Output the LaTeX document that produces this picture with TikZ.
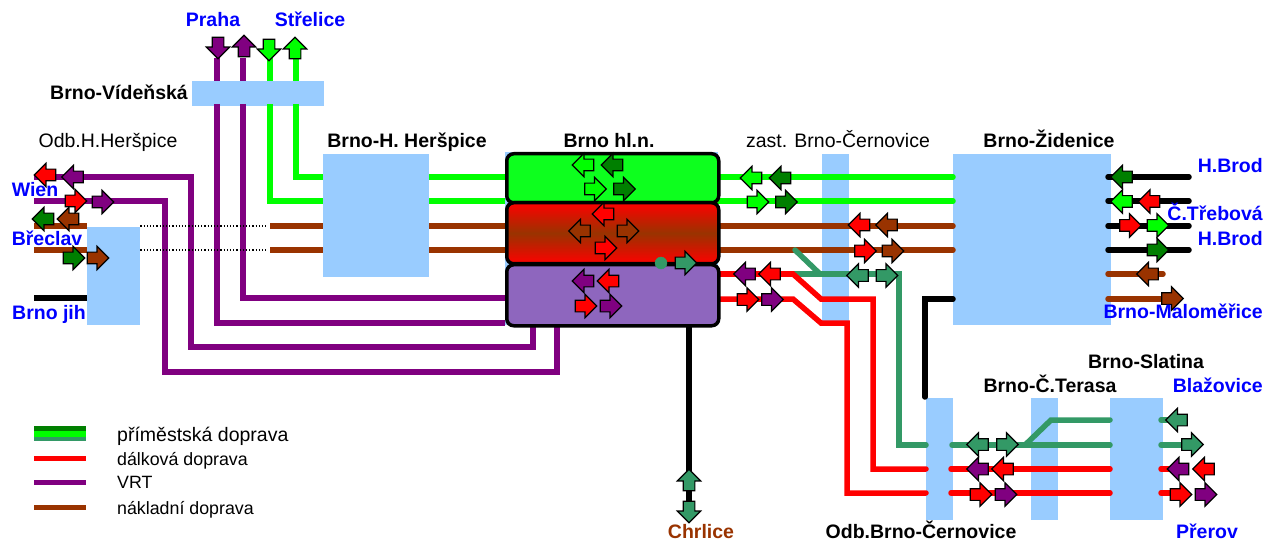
\documentclass[tikz,border=0pt]{standalone}
\usepackage{fontspec}
\setmainfont{Liberation Sans}
\usepackage{xcolor}
\usetikzlibrary{shapes.arrows}
\definecolor{stnblue}{HTML}{99CCFF}
\definecolor{vrt}{HTML}{800080}
\definecolor{freight}{HTML}{993300}
\definecolor{teal2}{HTML}{339966}
\definecolor{dkgreen}{HTML}{007F00}
\definecolor{lime2}{HTML}{00FF00}
\definecolor{hlgreen}{HTML}{0DFF1E}
\definecolor{hlpurple}{HTML}{8E66BE}
\tikzset{
    stanice/.style={fill=stnblue, inner sep=0pt, anchor=north west},
    track/.style={line width=5.5pt},
    rtrack/.style={track, line cap=round},
    deck/.style={draw=black, line width=3.5pt, rounded corners=7pt, inner sep=0pt, anchor=north west, minimum width=212pt},
    barrow/.style={single arrow, draw=black, line width=1.2pt, inner sep=0pt, text height=10.5pt, text depth=0pt, minimum height=21.5pt, single arrow head extend=5.8pt},
    rarrow/.style={barrow, xshift=-2pt},
    larrow/.style={barrow, rotate=180, xshift=-2pt},
    uarrow/.style={barrow, rotate=90, xshift=-2pt},
    darrow/.style={barrow, rotate=-90, xshift=-2pt},
    lab/.style={font=\fontsize{19.5}{22}\selectfont\bfseries, inner sep=0pt, anchor=base},
    dest/.style={lab, text=blue},
    plain/.style={font=\fontsize{19.5}{22}\selectfont, inner sep=0pt, anchor=base},
    small/.style={font=\fontsize{17.8}{20}\selectfont, inner sep=0pt, anchor=base west},
}
\begin{document}
\begin{tikzpicture}[x=1pt, y=-1pt]
    \useasboundingbox (0,0) rectangle (1264,540);
    % stations
    \node[stanice, minimum width=53pt, minimum height=98pt] (odb) at (87,227) {};
    \node[stanice, minimum width=132pt, minimum height=25pt] (vid) at (192,81) {};
    \node[stanice, minimum width=106pt, minimum height=123pt] (her) at (323,154) {};
    \node[stanice, minimum width=213pt, minimum height=173pt] (hlbg) at (505,152) {};
    \node[stanice, minimum width=27pt, minimum height=168pt] (cer) at (822,154) {};
    \node[stanice, minimum width=158pt, minimum height=171pt] (zid) at (953,154) {};
    \node[stanice, minimum width=27pt, minimum height=122pt] (ocer) at (926,398) {};
    \node[stanice, minimum width=27pt, minimum height=122pt] (ter) at (1031,398) {};
    \node[stanice, minimum width=53pt, minimum height=122pt] (sla) at (1110,398) {};
    % free ends
    \coordinate (wien1) at (34,177);
    \coordinate (wien2) at (34,201);
    \coordinate (bre1) at (34,226);
    \coordinate (bre2) at (34,250);
    \coordinate (jih) at (34,298);
    \coordinate (chr) at (689,505);
    % lines to the north
    \draw[track, vrt] (217,58) -- (vid.north -| 217,0);
    \draw[track, vrt] (243,58) -- (vid.north -| 243,0);
    \draw[track, lime2] (270,58) -- (vid.north -| 270,0);
    \draw[track, lime2] (296,58) -- (vid.north -| 296,0);
    \draw[track, vrt] (217,104) -- (217,323) -- (505,323);
    \draw[track, vrt] (243,104) -- (243,298) -- (505,298);
    \draw[track, lime2] (270,104) -- (270,201) -- (her.west |- 0,201);
    \draw[track, lime2] (296,104) -- (296,177) -- (her.west |- 0,177);
    % VRT to the south west
    \draw[track, vrt] (wien1) -- (191,177) -- (191,347) -- (533,347) -- (533,322);
    \draw[track, vrt] (wien2) -- (165,201) -- (165,372) -- (557,372) -- (557,322);
    \draw[track, freight] (bre1) -- (odb.west |- bre1);
    \draw[track, freight] (bre2) -- (odb.west |- bre2);
    \draw[track, black] (jih) -- (odb.west |- jih);
    \draw[dotted, line width=1.2pt] (odb.east |- bre1) -- (268,226);
    \draw[dotted, line width=1.2pt] (odb.east |- bre2) -- (268,250);
    \draw[track, freight] (270,226) -- (her.west |- 0,226);
    \draw[track, freight] (270,250) -- (her.west |- 0,250);
    % H. Herspice to hl.n.
    \draw[track, lime2] (her.east |- 0,177) -- (hlbg.west |- 0,177);
    \draw[track, lime2] (her.east |- 0,201) -- (hlbg.west |- 0,201);
    \draw[track, freight] (her.east |- 0,226) -- (hlbg.west |- 0,226);
    \draw[track, freight] (her.east |- 0,250) -- (hlbg.west |- 0,250);
    % hl.n. to Zidenice
    \draw[rtrack, lime2] (717,177) -- (zid.west |- 0,177);
    \draw[rtrack, lime2] (717,201) -- (zid.west |- 0,201);
    \draw[rtrack, freight] (717,226) -- (zid.west |- 0,226);
    \draw[rtrack, freight] (717,250) -- (zid.west |- 0,250);
    \draw[track, black] (689,323) -- (chr);
    % Cernovice
    \draw[rtrack, teal2] (793,274) -- (899,274) -- (899,445) -- (ocer.west |- 0,445);
    \draw[rtrack, teal2] (795,250) -- (820,274);
    \draw[rtrack, red] (717,274) -- (793,274) -- (821,299) -- (873,299) -- (873,469) -- (ocer.west |- 0,469);
    \draw[rtrack, red] (717,299) -- (793,299) -- (821,323) -- (847,323) -- (847,493) -- (ocer.west |- 0,493);
    \draw[rtrack, black] (zid.west |- 0,299) -- (925,299) -- (925,397);
    % Terasa and Slatina
    \draw[rtrack, teal2] (952,445) -- (sla.west |- 0,445);
    \draw[rtrack, teal2] (1025,445) -- (1051,420) -- (sla.west |- 0,420);
    \draw[rtrack, red] (951,469) -- (sla.west |- 0,469);
    \draw[rtrack, red] (951,493) -- (sla.west |- 0,493);
    \draw[rtrack, teal2] (1161,420) -- (1185,420);
    \draw[rtrack, teal2] (1161,445) -- (1190,445);
    \draw[rtrack, red] (1161,469) -- (1175,469);
    \draw[rtrack, red] (1161,493) -- (1175,493);
    % Zidenice to the east
    \foreach \y in {177,201,226,250}
        \draw[rtrack, black] (1108,\y) -- (1189,\y);
    \draw[rtrack, freight] (1108,274) -- (1163,274);
    \draw[rtrack, freight] (1108,299) -- (1175,299);
    % hl.n.
    \node[deck, fill=hlgreen, minimum height=49pt] (hlzel) at (505,152) {};
    \node[deck, top color=red, bottom color=red, middle color=freight, minimum height=61pt] (hlcer) at (505,201) {};
    \node[deck, fill=hlpurple, minimum height=61pt] (hlfia) at (505,263) {};
    \node[circle, fill=teal2, draw=teal2, minimum size=12pt, inner sep=0pt] (bod) at (661,263) {};
    % arrows
    \foreach \c/\x/\y [count=\i] in {
        red/46/175, vrt/73.5/177, dkgreen/44/219, freight/69/219,
        lime2/584/165, dkgreen/613/165, red/604/214, freight/580.5/231,
        vrt/584/281, red/609/281, lime2/752/178, dkgreen/781/178,
        red/860/225, freight/887.5/225, teal2/858.5/275.5, vrt/745.5/274, red/770.5/274,
        dkgreen/1122.5/177, lime2/1122.5/201.5, red/1150/201.5, freight/1148.5/274,
        teal2/978.5/444.5, vrt/978.5/469, red/1003.5/469,
        teal2/1177.5/420, vrt/1179/469, red/1204.5/469}
        \node[larrow, fill=\c] (l\i) at (\x,\y) {};
    \foreach \c/\x/\y [count=\i] in {
        red/75/201, vrt/102/202, dkgreen/73/258, freight/97/258,
        lime2/594.5/189, dkgreen/623.5/189, freight/627/231, red/605/248,
        teal2/685/263, red/585/306, vrt/610/306, lime2/757/202, dkgreen/785.5/202,
        red/864.5/251, freight/892/251, teal2/886/275.5, red/747/299.5, vrt/771.5/299.5,
        red/1129.5/225.5, lime2/1157/225.5, dkgreen/1157/250, freight/1171.5/298.5,
        teal2/1006.5/444.5, red/980/494.5, vrt/1005/494.5,
        teal2/1191.5/444.5, red/1180/494.5, vrt/1205/494.5}
        \node[rarrow, fill=\c] (r\i) at (\x,\y) {};
    \node[darrow, fill=vrt] (d1) at (218,47) {};
    \node[uarrow, fill=vrt] (u1) at (244,47) {};
    \node[darrow, fill=lime2] (d2) at (269,49) {};
    \node[uarrow, fill=lime2] (u2) at (295,49) {};
    \node[uarrow, fill=teal2] (u3) at (689,481) {};
    \node[darrow, fill=teal2] (d3) at (689,511) {};
    % labels
    \node[dest] (praha) at (213,27) {Praha};
    \node[dest] (strelice) at (310,27) {Střelice};
    \node[lab] (lvid) at (119,100) {Brno-Vídeňská};
    \node[plain] (lodb) at (108,148) {Odb.H.Heršpice};
    \node[lab] (lher) at (407,148) {Brno-H. Heršpice};
    \node[lab] (lhl) at (609,147.5) {Brno hl.n.};
    \node[plain] (lcer) at (838,148) {zast. Brno-Černovice};
    \node[lab] (lzid) at (1049,147.5) {Brno-Židenice};
    \node[dest] (wien) at (35,197) {Wien};
    \node[dest] (breclav) at (47,246) {Břeclav};
    \node[dest] (brnojih) at (49,319) {Brno jih};
    \node[dest, anchor=base east] (brod1) at (1263,173) {H.Brod};
    \node[dest, anchor=base east] (ctr) at (1263,221) {Č.Třebová};
    \node[dest, anchor=base east] (brod2) at (1263,246) {H.Brod};
    \node[dest, anchor=base east] (mal) at (1263,318) {Brno-Maloměřice};
    \node[lab] (lsla) at (1146,368) {Brno-Slatina};
    \node[lab] (lter) at (1050,392) {Brno-Č.Terasa};
    \node[dest, anchor=base east] (blaz) at (1263,392) {Blažovice};
    \node[lab] (locer) at (921,538) {Odb.Brno-Černovice};
    \node[dest] (prerov) at (1207,538) {Přerov};
    \node[text=freight, lab] (chrlice) at (701,538) {Chrlice};
    % legend
    \node[fill=dkgreen, inner sep=0pt, minimum width=52pt, minimum height=5pt] (g1) at (60,428.5) {};
    \node[fill=lime2, inner sep=0pt, minimum width=52pt, minimum height=6pt] (g2) at (60,434) {};
    \node[fill=teal2, inner sep=0pt, minimum width=52pt, minimum height=4pt] (g3) at (60,439) {};
    \node[fill=red, inner sep=0pt, minimum width=52pt, minimum height=5pt] (g4) at (60,458) {};
    \node[fill=vrt, inner sep=0pt, minimum width=52pt, minimum height=5pt] (g5) at (60,482) {};
    \node[fill=freight, inner sep=0pt, minimum width=52pt, minimum height=5pt] (g6) at (60,507) {};
    \node[plain, anchor=base west] (t1) at (117,441) {příměstská doprava};
    \node[small] (t2) at (117,465) {dálková doprava};
    \node[small] (t3) at (117,488) {VRT};
    \node[small] (t4) at (117,514) {nákladní doprava};
\end{tikzpicture}
\end{document}
